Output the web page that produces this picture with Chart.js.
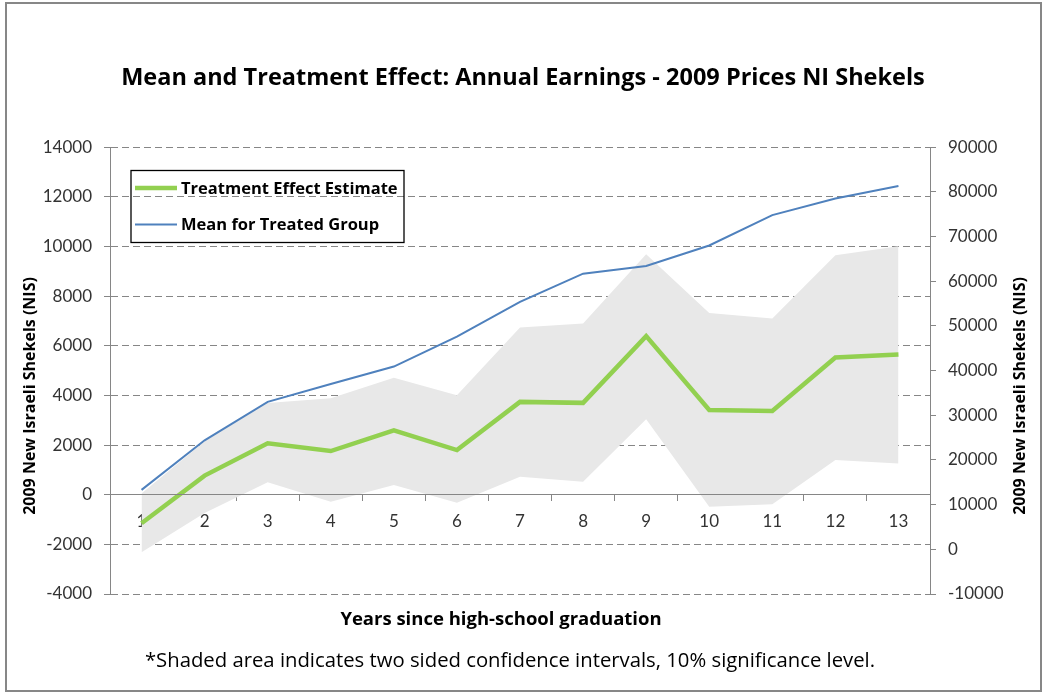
<!DOCTYPE html>
<html>
<head>
<meta charset="utf-8">
<script src="https://cdn.jsdelivr.net/npm/chart.js@4/dist/chart.umd.min.js"></script>
<style>
  html, body { margin: 0; padding: 0; background: #fff; }
  #wrap { width: 1046px; height: 692px; }
</style>
</head>
<body>
<div id="wrap"><canvas id="chart" width="1046" height="692"></canvas></div>
<script>
/* Mean and treatment effect on annual earnings, with shaded CI band */

// ─── Data ────────────────────────────────────────────────────────────────────

const years       = ['1', '2', '3', '4', '5', '6', '7', '8', '9', '10', '11', '12', '13'];
const effect      = [-1150, 770, 2070, 1760, 2590, 1800, 3740, 3700, 6390, 3410, 3370, 5530, 5650];
const meanTreated = [13300, 24400, 33000, 37000, 40900, 47600, 55400, 61700, 63400, 68000, 74800, 78500, 81300];
const ciUpper     = [50, 2150, 3690, 3890, 4710, 4010, 6740, 6900, 9690, 7320, 7100, 9650, 10010];
const ciLower     = [-2320, -740, 500, -280, 390, -320, 720, 520, 3040, -480, -380, 1400, 1260];

const leftTicks  = { min: -4000, max: 14000, step: 2000 };
const rightTicks = { min: -10000, max: 90000, step: 10000 };

const TITLE    = 'Mean and Treatment Effect: Annual Earnings - 2009 Prices NI Shekels';
const Y_TITLE  = '2009 New Israeli Shekels (NIS)';
const X_TITLE  = 'Years since high-school graduation';
const FOOTNOTE = '*Shaded area indicates two sided confidence intervals, 10% significance level.';

// ─── Styling ─────────────────────────────────────────────────────────────────

const FONT      = '"Open Sans", Lato, sans-serif';
const TICK_FONT = 'Lato, "Open Sans", sans-serif';
const AXIS_GREY = '#868686';
const TICK_TEXT = '#333333';

// frame, legend box, rotated axis titles and bottom texts
const decorations = {
  id: 'decorations',
  beforeDraw(chart) {
    const { ctx, width, height } = chart;
    ctx.save();
    ctx.fillStyle = '#fff';
    ctx.fillRect(0, 0, width, height);
    ctx.restore();
  },
  afterDraw(chart) {
    const { ctx } = chart;
    ctx.save();

    // outer frame
    ctx.strokeStyle = '#878787';
    ctx.lineWidth = 2;
    ctx.strokeRect(6, 3, 1035, 688);

    // legend box (first two datasets)
    ctx.strokeStyle = '#000';
    ctx.lineWidth = 1.3;
    ctx.strokeRect(131, 170.5, 273, 72);
    const items = chart.data.datasets.slice(0, 2);
    ctx.font = `bold 16.5px ${FONT}`;
    ctx.textBaseline = 'middle';
    ctx.textAlign = 'left';
    items.forEach((ds, i) => {
      const y = 188 + i * 36.5;
      ctx.strokeStyle = ds.borderColor;
      ctx.lineWidth = ds.borderWidth;
      ctx.beginPath();
      ctx.moveTo(135, y);
      ctx.lineTo(177, y);
      ctx.stroke();
      ctx.fillStyle = '#000';
      ctx.fillText(ds.label, 181, y + 1);
    });

    // y axis titles, both reading bottom to top
    ctx.font = `bold 16px ${FONT}`;
    ctx.textAlign = 'center';
    [30, 1020].forEach(x => {
      ctx.save();
      ctx.translate(x, 396);
      ctx.rotate(-Math.PI / 2);
      ctx.fillText(Y_TITLE, 0, 0);
      ctx.restore();
    });

    // x axis title and footnote
    ctx.font = `bold 18.5px ${FONT}`;
    ctx.fillText(X_TITLE, 501, 620);
    ctx.font = `20.3px ${FONT}`;
    ctx.fillText(FOOTNOTE, 510, 661);
    ctx.restore();
  },
};

// ─── Chart ───────────────────────────────────────────────────────────────────

const tickFont = { family: TICK_FONT, size: 17 };

new Chart(document.getElementById('chart'), {
  type: 'line',
  data: {
    labels: years,
    datasets: [
      { label: 'Treatment Effect Estimate', data: effect, yAxisID: 'y',
        borderColor: '#92d050', borderWidth: 4.5, pointRadius: 0, fill: false },
      { label: 'Mean for Treated Group', data: meanTreated, yAxisID: 'y1',
        borderColor: '#4f81bd', borderWidth: 2, pointRadius: 0, fill: false },
      { label: 'CI upper', data: ciUpper, yAxisID: 'y',
        borderColor: 'rgba(0,0,0,0)', borderWidth: 0, pointRadius: 0,
        backgroundColor: '#e8e8e8', fill: '+1' },
      { label: 'CI lower', data: ciLower, yAxisID: 'y',
        borderColor: 'rgba(0,0,0,0)', borderWidth: 0, pointRadius: 0, fill: false },
    ],
  },
  options: {
    responsive: false,
    animation: false,
    devicePixelRatio: 1,
    layout: { padding: { left: 0, right: 0, top: 0, bottom: 98 } },
    plugins: {
      legend: { display: false },
      tooltip: { enabled: false },
      title: {
        display: true, text: TITLE, color: '#000',
        font: { family: FONT, size: 23.5, weight: 'bold' },
        padding: { top: 64, bottom: 55 },
      },
    },
    scales: {
      x: {
        type: 'category',
        position: { y: 0 },
        offset: true,
        grid: { offset: true, drawOnChartArea: false, tickLength: 6, color: AXIS_GREY },
        border: { color: AXIS_GREY, width: 1, z: 1 },
        ticks: { color: TICK_TEXT, font: tickFont, padding: 11, maxRotation: 0, autoSkip: false },
      },
      y: {
        position: 'left',
        min: leftTicks.min, max: leftTicks.max,
        ticks: { stepSize: leftTicks.step, color: TICK_TEXT, font: tickFont, padding: 12,
                 callback: v => String(v) },
        grid: { color: AXIS_GREY, tickLength: 6 },
        border: { color: AXIS_GREY, width: 1, dash: [7, 4] },
        afterFit(s) { s.width = 110; },
      },
      y1: {
        position: 'right',
        min: rightTicks.min, max: rightTicks.max,
        ticks: { stepSize: rightTicks.step, color: TICK_TEXT, font: tickFont, padding: 12,
                 callback: v => String(v) },
        grid: { drawOnChartArea: false, color: AXIS_GREY, tickLength: 6 },
        border: { color: AXIS_GREY, width: 1 },
        afterFit(s) { s.width = 116; },
      },
    },
  },
  plugins: [decorations],
});
</script>
</body>
</html>
